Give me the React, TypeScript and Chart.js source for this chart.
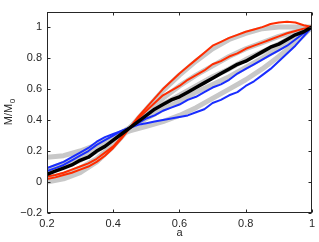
import React, { useEffect, useRef } from "react";
import { Chart, registerables } from "chart.js";

Chart.register(...registerables);

// sample positions (a) for the measured curves
const aFine = [0.2, 0.225, 0.25, 0.275, 0.3, 0.325, 0.35, 0.375, 0.4, 0.425, 0.45, 0.475, 0.5, 0.525, 0.55, 0.575, 0.6, 0.625, 0.65, 0.675, 0.7, 0.725, 0.75, 0.775, 0.8, 0.825, 0.85, 0.875, 0.9, 0.925, 0.95, 0.975, 1.0];

const redUpper = [0.02, 0.03, 0.045, 0.06, 0.08, 0.10, 0.13, 0.17, 0.22, 0.28, 0.35, 0.42, 0.48, 0.54, 0.60, 0.65, 0.70, 0.745, 0.79, 0.835, 0.88, 0.905, 0.93, 0.95, 0.97, 0.985, 1.0, 1.02, 1.03, 1.035, 1.03, 1.012, 1.0];
const redMiddle = [0.035, 0.045, 0.06, 0.08, 0.10, 0.12, 0.15, 0.19, 0.23, 0.29, 0.35, 0.41, 0.46, 0.51, 0.56, 0.59, 0.62, 0.66, 0.69, 0.72, 0.76, 0.78, 0.81, 0.83, 0.86, 0.88, 0.90, 0.92, 0.94, 0.96, 0.975, 0.99, 1.0];
const blackMean = [0.05, 0.07, 0.09, 0.11, 0.14, 0.16, 0.20, 0.23, 0.27, 0.31, 0.35, 0.39, 0.43, 0.47, 0.50, 0.53, 0.55, 0.58, 0.61, 0.64, 0.67, 0.70, 0.73, 0.76, 0.78, 0.81, 0.84, 0.87, 0.89, 0.92, 0.95, 0.97, 1.0];
const blueUpper = [0.07, 0.09, 0.11, 0.14, 0.17, 0.20, 0.24, 0.27, 0.30, 0.33, 0.35, 0.38, 0.41, 0.43, 0.46, 0.48, 0.50, 0.53, 0.55, 0.58, 0.61, 0.63, 0.66, 0.70, 0.73, 0.76, 0.79, 0.82, 0.85, 0.88, 0.92, 0.96, 1.0];
const blueLower = [0.09, 0.11, 0.13, 0.16, 0.19, 0.22, 0.26, 0.29, 0.31, 0.33, 0.35, 0.37, 0.38, 0.39, 0.40, 0.41, 0.42, 0.43, 0.45, 0.47, 0.51, 0.53, 0.56, 0.58, 0.62, 0.65, 0.69, 0.73, 0.78, 0.83, 0.88, 0.94, 1.0];

// sample positions for the smooth grey reference curves
const aCoarse = [0.2, 0.25, 0.3, 0.35, 0.4, 0.45, 0.5, 0.55, 0.6, 0.65, 0.7, 0.75, 0.8, 0.85, 0.9, 0.95, 1.0];
const grey1 = [0.0, 0.02, 0.06, 0.13, 0.23, 0.35, 0.47, 0.59, 0.69, 0.78, 0.86, 0.92, 0.96, 0.99, 1.0, 1.0, 1.0];
const grey2 = [0.02, 0.05, 0.09, 0.15, 0.24, 0.35, 0.45, 0.54, 0.62, 0.69, 0.75, 0.81, 0.86, 0.90, 0.94, 0.97, 1.0];
const grey3 = [0.06, 0.10, 0.14, 0.20, 0.27, 0.35, 0.43, 0.50, 0.56, 0.62, 0.68, 0.73, 0.79, 0.84, 0.89, 0.95, 1.0];
const grey4 = [0.08, 0.12, 0.17, 0.23, 0.29, 0.35, 0.41, 0.47, 0.52, 0.58, 0.63, 0.68, 0.74, 0.80, 0.86, 0.93, 1.0];
const grey5 = [0.16, 0.17, 0.20, 0.24, 0.29, 0.33, 0.36, 0.39, 0.43, 0.48, 0.54, 0.60, 0.66, 0.73, 0.81, 0.90, 1.0];

const xTickValues = [0.2, 0.4, 0.6, 0.8, 1.0];
const yTickValues = [-0.2, 0, 0.2, 0.4, 0.6, 0.8, 1.0];

const xTitle = "a";
const yTitleMain = "M/M";
const yTitleSub = "0";

const toPts = (xs: number[], ys: number[]) => ys.map((v, i) => ({ x: xs[i], y: v }));
const fmt = (v: number) => {
  const r = Math.round(v * 10) / 10;
  return r < 0 ? "\u2212" + String(-r) : String(r);
};

const AXIS = "#262626";
const FONT = "Liberation Sans, Arial, Helvetica, sans-serif";

const framePlugin = {
  id: "frame",
  afterDraw(chart: any) {
    const { ctx, chartArea } = chart;
    const { left, right, top, bottom } = chartArea;
    const xs = chart.scales.x;
    const ys = chart.scales.y;
    ctx.save();
    ctx.strokeStyle = AXIS;
    ctx.lineWidth = 1;
    const L = Math.round(left) + 0.5;
    const R = Math.round(right) - 0.5;
    const T = Math.round(top) + 0.5;
    const B = Math.round(bottom) - 0.5;
    ctx.strokeRect(L, T, R - L, B - T);
    const tl = 3;
    ctx.beginPath();
    xTickValues.forEach((v) => {
      const px = Math.round(xs.getPixelForValue(v)) + 0.5;
      ctx.moveTo(px, B);
      ctx.lineTo(px, B - tl);
      ctx.moveTo(px, T);
      ctx.lineTo(px, T + tl);
    });
    yTickValues.forEach((v) => {
      const py = Math.round(ys.getPixelForValue(v)) + 0.5;
      ctx.moveTo(L, py);
      ctx.lineTo(L + tl, py);
      ctx.moveTo(R, py);
      ctx.lineTo(R - tl, py);
    });
    ctx.stroke();

    // y-axis title with subscript
    const cy = (top + bottom) / 2;
    const cx = 8;
    ctx.translate(cx, cy);
    ctx.rotate(-Math.PI / 2);
    ctx.fillStyle = AXIS;
    ctx.textBaseline = "alphabetic";
    ctx.textAlign = "left";
    ctx.font = `11px ${FONT}`;
    const w1 = ctx.measureText(yTitleMain).width;
    ctx.font = `8px ${FONT}`;
    const w2 = ctx.measureText(yTitleSub).width;
    const start = -(w1 + w2) / 2;
    ctx.font = `11px ${FONT}`;
    ctx.fillText(yTitleMain, start, 4);
    ctx.font = `8px ${FONT}`;
    ctx.fillText(yTitleSub, start + w1 + 0.5, 7);
    ctx.restore();
  },
};

export default function App() {
  const ref = useRef<HTMLCanvasElement | null>(null);
  useEffect(() => {
    if (!ref.current) return;
    const grey = "rgb(200,200,200)";
    const red = "rgb(255,45,0)";
    const blue = "rgb(25,45,255)";
    const mk = (data: any, color: string, width: number, order: number) => ({
      data,
      borderColor: color,
      borderWidth: width,
      pointRadius: 0,
      fill: false,
      tension: 0,
      order,
      borderCapStyle: "round",
      borderJoinStyle: "round",
    });
    const chart = new Chart(ref.current, {
      type: "line",
      data: {
        datasets: [
          mk(toPts(aFine, blackMean), "#000000", 3.5, 0),
          mk(toPts(aFine, redUpper), red, 2, 1),
          mk(toPts(aFine, redMiddle), red, 2, 1),
          mk(toPts(aFine, blueUpper), blue, 2, 1),
          mk(toPts(aFine, blueLower), blue, 2, 1),
          mk(toPts(aCoarse, grey1), grey, 5, 3),
          mk(toPts(aCoarse, grey2), grey, 5, 3),
          mk(toPts(aCoarse, grey3), grey, 5, 3),
          mk(toPts(aCoarse, grey4), grey, 5, 3),
          mk(toPts(aCoarse, grey5), grey, 5, 3),
        ] as any,
      },
      options: {
        animation: false,
        responsive: false,
        maintainAspectRatio: false,
        layout: { padding: { left: 0, top: 3, right: 6, bottom: 0 } },
        plugins: { legend: { display: false }, tooltip: { enabled: false } },
        scales: {
          x: {
            type: "linear",
            min: 0.2,
            max: 1.0,
            afterBuildTicks: (s: any) => {
              s.ticks = xTickValues.map((v) => ({ value: v }));
            },
            afterFit: (s: any) => {
              s.height = 29;
            },
            grid: { display: false, drawTicks: false },
            border: { display: false },
            ticks: {
              padding: 4,
              color: AXIS,
              font: { family: FONT, size: 11 },
              maxRotation: 0,
              callback: (v: any) => fmt(Number(v)),
            },
            title: {
              display: true,
              text: xTitle,
              color: AXIS,
              font: { family: FONT, size: 11 },
              padding: { top: 0, bottom: 2 },
            },
          },
          y: {
            type: "linear",
            min: -0.2,
            max: 1.1,
            afterBuildTicks: (s: any) => {
              s.ticks = yTickValues.map((v) => ({ value: v }));
            },
            afterFit: (s: any) => {
              s.width = 47;
            },
            grid: { display: false, drawTicks: false },
            border: { display: false },
            ticks: {
              padding: 5,
              color: AXIS,
              font: { family: FONT, size: 11 },
              callback: (v: any) => fmt(Number(v)),
            },
          },
        },
      },
      plugins: [framePlugin],
    });
    return () => chart.destroy();
  }, []);
  return (
    <div style={{ position: "fixed", left: 0, top: 0, width: 319, height: 242, background: "#fff" }}>
      <canvas ref={ref} width={319} height={242} style={{ display: "block", width: 319, height: 242 }} />
    </div>
  );
}
